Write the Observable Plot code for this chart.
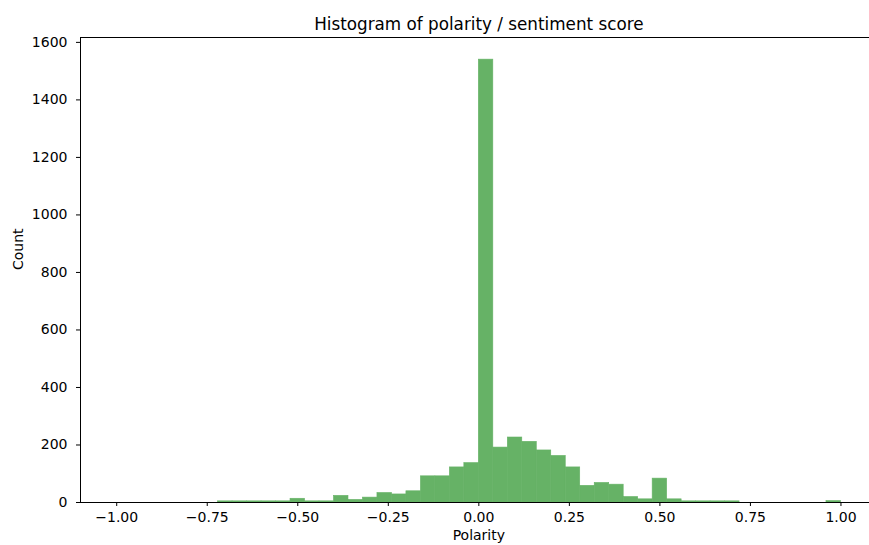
<!DOCTYPE html>
<html>
<head>
<meta charset="utf-8">
<script src="https://cdn.jsdelivr.net/npm/d3@7"></script>
<script src="https://cdn.jsdelivr.net/npm/@observablehq/plot@0.6"></script>
<style>
  html, body { margin: 0; padding: 0; background: #fff; overflow: hidden; }
  #chart svg { display: block; font-family: "DejaVu Sans", sans-serif; }
</style>
</head>
<body>
<div id="chart"></div>
<script>
// Histogram bins (lower edge), bin width 0.04 from -1 to 1
const binStart = [
  -1.00, -0.96, -0.92, -0.88, -0.84, -0.80, -0.76, -0.72, -0.68, -0.64,
  -0.60, -0.56, -0.52, -0.48, -0.44, -0.40, -0.36, -0.32, -0.28, -0.24,
  -0.20, -0.16, -0.12, -0.08, -0.04,  0.00,  0.04,  0.08,  0.12,  0.16,
   0.20,  0.24,  0.28,  0.32,  0.36,  0.40,  0.44,  0.48,  0.52,  0.56,
   0.60,  0.64,  0.68,  0.72,  0.76,  0.80,  0.84,  0.88,  0.92,  0.96
];
const binWidth = 0.04;
const counts = [
    0,    0,    0,    0,    0,    0,    0,    4,    4,    4,
    4,    4,   13,    4,    4,   23,    9,   17,   33,   28,
   39,   91,   91,  122,  137, 1540,  191,  226,  211,  181,
  162,  122,   58,   68,   62,   19,   11,   83,   11,    4,
    4,    4,    4,    0,    0,    0,    0,    0,    0,    5
];
const xTicks = [-1.0, -0.75, -0.5, -0.25, 0.0, 0.25, 0.5, 0.75, 1.0];
const yTicks = [0, 200, 400, 600, 800, 1000, 1200, 1400, 1600];
const title = "Histogram of polarity / sentiment score";
const xLabel = "Polarity";
const yLabel = "Count";

const bins = binStart.map((x, i) => ({x1: x, x2: x + binWidth, count: counts[i]}));
const yMax = d3.max(counts) * 1.05;
const xMin = -1.1, xMax = 1.0788;

const chart = Plot.plot({
  width: 869,
  height: 545,
  marginLeft: 80,
  marginRight: 0,
  marginTop: 37,
  marginBottom: 43,
  style: {fontFamily: "DejaVu Sans, sans-serif", fontSize: "14px", color: "#000", background: "#fff"},
  x: {domain: [xMin, xMax]},
  y: {domain: [0, yMax]},
  marks: [
    Plot.rectY(bins.filter(d => d.count > 0), {x1: "x1", x2: "x2", y: "count", fill: "#66b266", stroke: "#66b266", strokeWidth: 0.6, inset: 0}),
    Plot.axisX({ticks: xTicks, tickFormat: d3.format(".2f"), tickSize: 4, tickPadding: 6, fontSize: 14, label: null, stroke: "#000"}),
    Plot.axisY({ticks: yTicks, tickFormat: d3.format("d"), tickSize: 4, tickPadding: 9, fontSize: 14, label: null, stroke: "#000"}),
    Plot.ruleY([0], {stroke: "#000", strokeWidth: 1}),
    Plot.ruleY([yMax], {stroke: "#000", strokeWidth: 1}),
    Plot.ruleX([xMin], {stroke: "#000", strokeWidth: 1}),
    Plot.text([title], {x: 0, text: d => d, frameAnchor: "top", dy: -19, fontSize: 16.8, fill: "#000"}),
    Plot.text([xLabel], {x: 0, text: d => d, frameAnchor: "bottom", dy: 37, fontSize: 14, fill: "#000"}),
    Plot.text([yLabel], {text: d => d, frameAnchor: "left", dx: -62, rotate: -90, fontSize: 14, fill: "#000"})
  ]
});
document.getElementById("chart").append(chart);
</script>
</body>
</html>
